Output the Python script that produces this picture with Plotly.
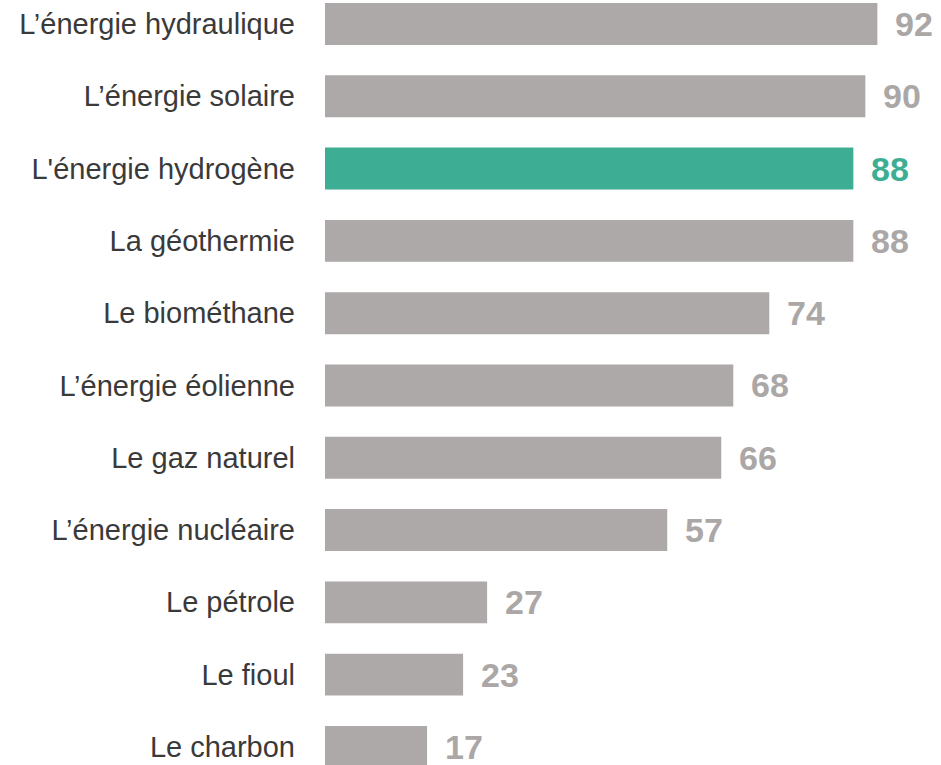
import plotly.graph_objects as go

categories = ["L’énergie hydraulique", "L’énergie solaire", "L'énergie hydrogène",
              "La géothermie", "Le biométhane", "L’énergie éolienne", "Le gaz naturel",
              "L’énergie nucléaire", "Le pétrole", "Le fioul", "Le charbon"]
values = [92, 90, 88, 88, 74, 68, 66, 57, 27, 23, 17]
highlight = "L'énergie hydrogène"

GREY = "#ADA9A8"
GREEN = "#3DAE94"
LABEL_GREY = "#ABA7A6"

idx = list(range(len(categories)))
colors = [GREEN if c == highlight else GREY for c in categories]

fig = go.Figure()
fig.add_trace(go.Bar(
    x=values, y=idx, orientation="h",
    marker=dict(color=colors, line=dict(width=0)),
    width=0.58, hoverinfo="skip",
))

for i, (c, v) in enumerate(zip(categories, values)):
    fig.add_annotation(
        x=v, y=i, xref="x", yref="y", text=f"<b>{v}</b>", showarrow=False,
        xanchor="left", yanchor="middle", xshift=16,
        font=dict(family="Liberation Sans, Arial, sans-serif", size=34,
                  color=GREEN if c == highlight else LABEL_GREY),
    )

fig.update_layout(
    width=941, height=765,
    margin=dict(l=325, r=0, t=0, b=0),
    paper_bgcolor="white", plot_bgcolor="white",
    showlegend=False,
    xaxis=dict(range=[0, 102.6], visible=False, fixedrange=True),
    yaxis=dict(range=[10.25, -0.332], tickvals=idx, ticktext=categories,
               ticks="", showgrid=False, zeroline=False, showline=False,
               ticklabelstandoff=29, automargin=False, fixedrange=True,
               tickfont=dict(family="Liberation Sans, Arial, sans-serif", size=29, color="#3A3A3A")),
)

fig.write_html("out.html", config={"displayModeBar": False, "staticPlot": True},
               post_script="document.body.style.margin='0';document.body.style.overflow='hidden';")
